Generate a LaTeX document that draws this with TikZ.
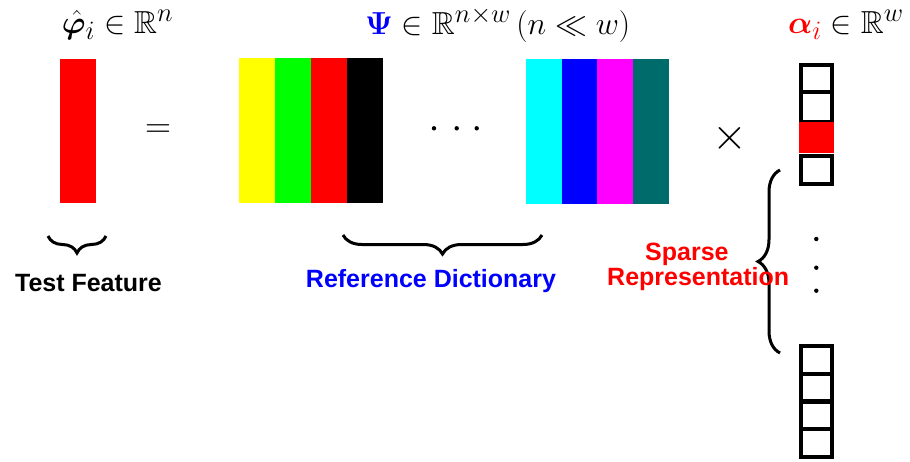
\documentclass[tikz,border=0pt]{standalone}
\usepackage{amsmath,amssymb,bm}
\usepackage{graphicx}
\usepackage{fontspec}
\newfontfamily\arialfont{Liberation Sans}
\usetikzlibrary{decorations.pathreplacing}
\definecolor{tealc}{RGB}{0,107,107}
\definecolor{cyanc}{RGB}{0,255,255}
\definecolor{magc}{RGB}{255,0,255}
\definecolor{yelc}{RGB}{255,255,0}
\definecolor{grnc}{RGB}{0,255,0}
\definecolor{redc}{RGB}{255,0,0}
\definecolor{bluec}{RGB}{0,0,255}
\begin{document}
\begin{tikzpicture}[x=1pt,y=-1pt,
  bar/.style={inner sep=0pt,outer sep=0pt,minimum width=35.9pt},
  dictl/.style={bar,minimum height=145pt},
  dictr/.style={bar,minimum height=145pt},
  cell/.style={draw=black,line width=4pt,inner sep=0pt,minimum width=30.4pt},
  mathlbl/.style={inner sep=0pt,font=\Huge},
  sanslbl/.style={inner sep=0pt,font=\arialfont\bfseries\fontsize{25}{22}\selectfont},
  bracestyle/.style={line width=3pt,decorate},
  dot/.style={circle,fill=black,inner sep=0pt,minimum size=4.4pt}]
\useasboundingbox (0,0) rectangle (910,461);
% titles
\node[mathlbl,anchor=base west] (t1) at (61.7,33) {\scalebox{1.28}{$\hat{\bm{\varphi}}_i \in \mathbb{R}^n$}};
\node[mathlbl,anchor=base west] (t2) at (365,34) {\scalebox{1.28}{$\color{bluec}\bm{\Psi}\color{black} \in \mathbb{R}^{n\times w}\,(n \ll w)$}};
\node[mathlbl,anchor=base west] (t3) at (788,33) {\scalebox{1.28}{$\color{redc}\bm{\alpha}_i\color{black} \in \mathbb{R}^w$}};
% test feature
\node[bar,fill=redc,minimum height=144pt] (tf) at (77.9,131) {};
\node[inner sep=0pt,font=\Huge] (eq) at (158,131) {\scalebox{1.45}{$=$}};
% dictionary left group
\node[dictl,fill=yelc,anchor=north west] (d1) at (239.4,57.5) {};
\node[dictl,fill=grnc,anchor=north west] (d2) at (d1.north east) {};
\node[dictl,fill=redc,anchor=north west] (d3) at (d2.north east) {};
\node[dictl,fill=black,anchor=north west] (d4) at (d3.north east) {};
% dots
\node[dot] (h1) at (434,128.3) {};
\node[dot] (h2) at (456.7,128.3) {};
\node[dot] (h3) at (476.7,128.3) {};
% dictionary right group
\node[dictr,fill=cyanc,anchor=north west] (d5) at (525.6,59) {};
\node[dictr,fill=bluec,anchor=north west] (d6) at (d5.north east) {};
\node[dictr,fill=magc,anchor=north west] (d7) at (d6.north east) {};
\node[dictr,fill=tealc,anchor=north west] (d8) at (d7.north east) {};
% times
\node[inner sep=0pt,font=\Huge] (tm) at (730,138) {\scalebox{1.8}{$\times$}};
% alpha vector
\node[cell,minimum height=27.2pt] (a1) at (816.5,78.1) {};
\node[cell,minimum height=30pt] (a2) at (816.5,106.7) {};
\node[fill=redc,inner sep=0pt,minimum width=34.4pt,minimum height=31.6pt] (a3) at (816.5,137.5) {};
\node[cell,minimum height=28pt] (a4) at (816.5,169.5) {};
\node[dot] (v1) at (816.3,239) {};
\node[dot] (v2) at (816.3,267.7) {};
\node[dot] (v3) at (816.3,290.7) {};
\node[cell,minimum height=27.75pt] (b1) at (816.5,359.9) {};
\node[cell,minimum height=27.75pt] (b2) at (816.5,387.6) {};
\node[cell,minimum height=27.75pt] (b3) at (816.5,415.4) {};
\node[cell,minimum height=27.75pt] (b4) at (816.5,443.1) {};
% braces
\coordinate (tfbL) at (48,236);
\coordinate (tfbR) at (106,236);
\coordinate (rdbL) at (343,235);
\coordinate (rdbR) at (542,235);
\coordinate (spbT) at (780,170);
\coordinate (spbB) at (780,353);
\draw[bracestyle,decoration={brace,amplitude=17pt}] (tfbR) -- (tfbL);
\draw[bracestyle,decoration={brace,amplitude=19pt}] (rdbR) -- (rdbL);
\draw[bracestyle,decoration={brace,amplitude=22pt}] (spbB) -- (spbT);
% labels
\node[sanslbl,anchor=base] (lt) at (88.5,291) {Test Feature};
\node[sanslbl,anchor=base,text=bluec] (lr) at (431,287) {Reference Dictionary};
\node[sanslbl,text=redc,align=left,anchor=base west] (ls) at (607,285) {\hspace*{38pt}Sparse\\Representation};
\end{tikzpicture}
\end{document}
